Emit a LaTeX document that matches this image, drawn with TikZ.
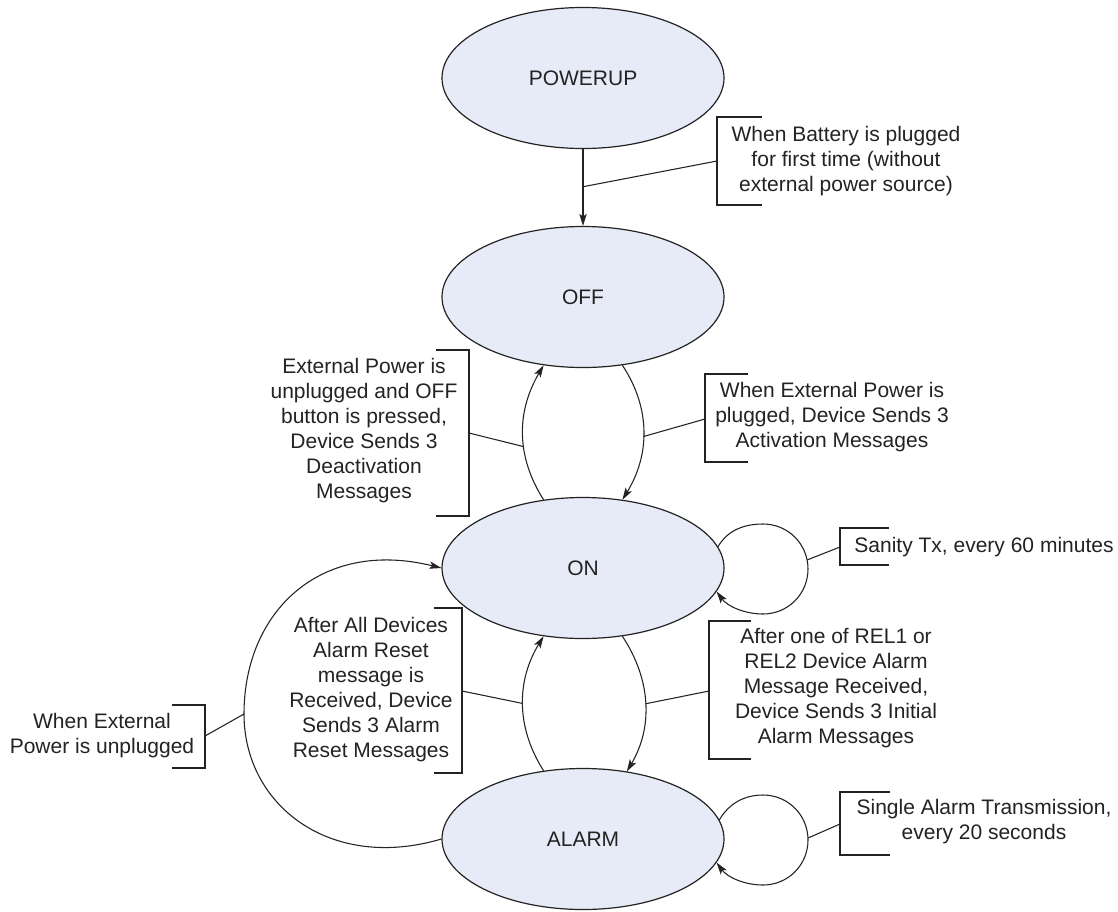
\documentclass[tikz,border=0pt]{standalone}
\usepackage{fontspec}
\setmainfont{Liberation Sans}
\usetikzlibrary{arrows.meta,shapes.geometric}
\definecolor{statefill}{RGB}{231,235,247}
\definecolor{ink}{RGB}{35,35,35}
\begin{document}
\begin{tikzpicture}[x=0.75pt,y=-0.75pt,
  state/.style={ellipse,draw=ink,fill=statefill,line width=0.9pt,minimum width=211.5pt,minimum height=105.75pt,inner sep=0pt,font=\fontsize{15.75}{18.75}\selectfont,text=ink},
  note/.style={align=center,inner sep=0pt,font=\fontsize{15.75}{18.75}\selectfont,text=ink},
  link/.style={draw=ink,line width=0.8pt},
  trans/.style={draw=ink,line width=0.8pt,-{Stealth[length=9pt,width=5.5pt,inset=2pt]}},
  brk/.style={draw=ink,line width=0.9pt}]
\useasboundingbox (0,0) rectangle (1118,911);
\fill[white] (0,0) rectangle (1118,911);
% states
\node[state] (pu) at (583,78) {POWERUP};
\node[state] (off) at (583,297) {OFF};
\node[state] (on) at (583,568) {ON};
\node[state] (al) at (583,839) {ALARM};
% transitions
\draw[trans] (pu) -- coordinate[pos=0.49] (pa) (off);
\draw[trans] (on.120) .. controls +(-28,-44) and +(-27,46) .. coordinate[pos=0.4] (da) (off.240);
\draw[trans] (off.300) .. controls +(29,44) and +(27,-44) .. coordinate[pos=0.53] (aa) (on.60);
\draw[trans] (al.120) .. controls +(-28,-44) and +(-27,44) .. coordinate[pos=0.5] (ra) (on.240);
\draw[trans] (on.300) .. controls +(29,44) and +(26,-44) .. coordinate[pos=0.5] (ia) (al.57);
\coordinate (ext) at (244,714);
\draw[trans] (al.180) .. controls (330,872) and (244,805) .. (ext) .. controls (244,612) and (320,538) .. (on.180);
% self loops
\draw[trans] (on.9) .. controls +(10,-17) and (745,524) .. (763,524) .. controls (788,524) and (808,544) .. (808,569) .. controls (808,594) and (788,614) .. (763,614) .. controls (745,614) and +(11,15) .. (on.-10);
\coordinate (sl) at (807,560);
\draw[trans] (al.8) .. controls +(10,-17) and (745,795) .. (763,795) .. controls (788,795) and (808,815) .. (808,840) .. controls (808,865) and (788,885) .. (763,885) .. controls (745,885) and +(11,15) .. (al.-10);
\coordinate (sl2) at (808,838);
% Battery
\draw[brk] (762,117) -- (717,117) -- (717,205) -- (762,205);
\coordinate (bb) at (717,161);
\node[note] (tbat) at (846,161) {When Battery is plugged\\for first time (without\\external power source)};
\draw[link] (bb) -- (pa);
% Deactivation
\draw[brk] (436,350) -- (469,350) -- (469,516) -- (436,516);
\coordinate (bd) at (469,433);
\node[note] (tdea) at (364,431) {External Power is\\unplugged and OFF\\button is pressed,\\Device Sends 3\\Deactivation\\Messages};
\draw[link] (bd) -- (da);
% Activation
\draw[brk] (748,374) -- (705,374) -- (705,462) -- (748,462);
\coordinate (ba) at (705,419);
\node[note] (tact) at (832,417) {When External Power is\\plugged, Device Sends 3\\Activation Messages};
\draw[link] (ba) -- (aa);
% Sanity
\draw[brk] (889,528) -- (840,528) -- (840,565) -- (889,565);
\coordinate (bs) at (840,547);
\node[note] (tsan) at (984,547) {Sanity Tx, every 60 minutes};
\draw[link] (bs) -- (sl);
% Reset
\draw[brk] (434,608) -- (462,608) -- (462,773) -- (434,773);
\coordinate (br) at (462,691);
\node[note] (tres) at (371,690) {After All Devices\\Alarm Reset\\message is\\Received, Device\\Sends 3 Alarm\\Reset Messages};
\draw[link] (br) -- (ra);
% REL
\draw[brk] (751,621) -- (709,621) -- (709,759) -- (751,759);
\coordinate (bi) at (709,691);
\node[note] (trel) at (836,688) {After one of REL1 or\\REL2 Device Alarm\\Message Received,\\Device Sends 3 Initial\\Alarm Messages};
\draw[link] (bi) -- (ia);
% Unplugged
\draw[brk] (172,705) -- (205,705) -- (205,768) -- (172,768);
\coordinate (bu) at (205,736);
\node[note] (tunp) at (102,736) {When External\\Power is unplugged};
\draw[link] (bu) -- (ext);
% Single alarm
\draw[brk] (890,792) -- (840,792) -- (840,855) -- (890,855);
\coordinate (bsa) at (840,824);
\node[note] (tsin) at (984,822) {Single Alarm Transmission,\\every 20 seconds};
\draw[link] (bsa) -- (sl2);
\end{tikzpicture}
\end{document}
